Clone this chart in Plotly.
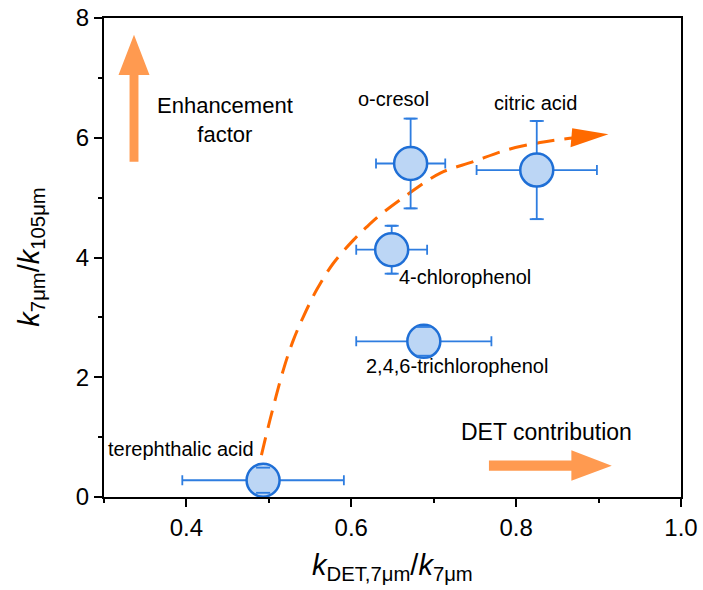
import plotly.graph_objects as go

# Data
names = ["terephthalic acid", "o-cresol", "citric acid", "4-chlorophenol", "2,4,6-trichlorophenol"]
x_vals = [0.493, 0.672, 0.825, 0.649, 0.688]
y_vals = [0.28, 5.57, 5.46, 4.13, 2.60]
x_err = [0.098, 0.042, 0.073, 0.043, 0.082]
y_err = [0.21, 0.75, 0.82, 0.40, 0.24]

# label positions
label_x = [0.394, 0.651, 0.823, 0.738, 0.728]
label_y = [0.80, 6.64, 6.58, 3.68, 2.18]

# dashed guide curve
curve_x = [0.491, 0.5014, 0.5175, 0.5297, 0.5418, 0.558, 0.578, 0.6025, 0.6187, 0.635,
           0.667, 0.708, 0.748, 0.788, 0.829, 0.865, 0.875]
curve_y = [0.70, 1.29, 2.12, 2.62, 3.01, 3.46, 3.90, 4.29, 4.51, 4.71,
           5.04, 5.41, 5.60, 5.795, 5.92, 5.99, 6.0]

FONT = "Arial, Liberation Sans, sans-serif"
BLUE = "#2e7de0"

fig = go.Figure()

fig.add_trace(go.Scatter(
    x=curve_x, y=curve_y, mode="lines",
    line=dict(color="#ff6a00", width=3, dash="18px,10px", shape="spline"),
    hoverinfo="skip", showlegend=False))

fig.add_trace(go.Scatter(
    x=x_vals, y=y_vals, mode="markers",
    marker=dict(size=33, color="#bcd6f5", line=dict(color="#1f6fd6", width=2.5)),
    error_x=dict(type="data", array=x_err, color=BLUE, thickness=1.8, width=5),
    error_y=dict(type="data", array=y_err, color=BLUE, thickness=1.8, width=5),
    showlegend=False))

# error-bar caps drawn on top of the markers
cap_x = x_vals + x_vals
cap_y = [y + e for y, e in zip(y_vals, y_err)] + [y - e for y, e in zip(y_vals, y_err)]
fig.add_trace(go.Scatter(
    x=cap_x, y=cap_y, mode="markers",
    marker=dict(symbol="line-ew", size=10, line=dict(color=BLUE, width=1.8)),
    hoverinfo="skip", showlegend=False))

for n, lx, ly in zip(names, label_x, label_y):
    fig.add_annotation(x=lx, y=ly, text=n, showarrow=False,
                       font=dict(size=20, color="black", family=FONT))

fig.add_annotation(x=0.447, y=6.30, text="Enhancement<br>factor", showarrow=False,
                   font=dict(size=22, color="black", family=FONT))
fig.add_annotation(x=0.837, y=1.09, text="DET contribution", showarrow=False,
                   font=dict(size=23, color="black", family=FONT))

# axis titles
fig.add_annotation(xref="paper", yref="paper", x=0.5, y=-0.146, yanchor="middle",
                   text="<i>k</i><sub>DET,7μm</sub>/<i>k</i><sub>7μm</sub>", showarrow=False,
                   font=dict(size=29, color="black", family=FONT))
fig.add_annotation(xref="paper", yref="paper", x=-0.128, y=0.5, xanchor="center",
                   yanchor="middle", textangle=-90,
                   text="<i>k</i><sub>7μm</sub>/<i>k</i><sub>105μm</sub>", showarrow=False,
                   font=dict(size=29, color="black", family=FONT))

arrow_col = "#ff9a50"
# up arrow
fig.add_shape(type="path",
              path="M 0.3310 5.60 L 0.3418 5.60 L 0.3418 7.05 L 0.3552 7.05 L 0.3364 7.72 "
                   "L 0.3176 7.05 L 0.3310 7.05 Z",
              fillcolor=arrow_col, line=dict(width=0), xref="x", yref="y")
# right arrow
fig.add_shape(type="path",
              path="M 0.767 0.44 L 0.867 0.44 L 0.867 0.27 L 0.916 0.523 L 0.867 0.78 "
                   "L 0.867 0.61 L 0.767 0.61 Z",
              fillcolor=arrow_col, line=dict(width=0), xref="x", yref="y")
# curve arrowhead
fig.add_shape(type="path",
              path="M 0.866 5.84 L 0.912 6.06 L 0.868 6.16 Z",
              fillcolor="#ff6a00", line=dict(width=0), xref="x", yref="y")

axis_common = dict(showline=True, linecolor="black", linewidth=2, mirror=True,
                   showgrid=False, zeroline=False, ticks="outside", tickwidth=2,
                   tickcolor="black", ticklen=8, automargin=False,
                   tickfont=dict(size=24, color="black", family=FONT))

fig.update_xaxes(range=[0.3, 1.0], dtick=0.2, tick0=0, tickformat=".1f",
                 minor=dict(dtick=0.1, tick0=0, ticks="outside", ticklen=4, tickwidth=2, tickcolor="black"),
                 **axis_common)
fig.update_yaxes(range=[0, 8], dtick=2, tick0=0,
                 minor=dict(dtick=1, tick0=0, ticks="outside", ticklen=4, tickwidth=2, tickcolor="black"),
                 **axis_common)

fig.update_layout(width=703, height=590, margin=dict(l=104, r=22, t=18, b=93),
                  plot_bgcolor="white", paper_bgcolor="white",
                  font=dict(family=FONT))

fig.write_html("out.html")
